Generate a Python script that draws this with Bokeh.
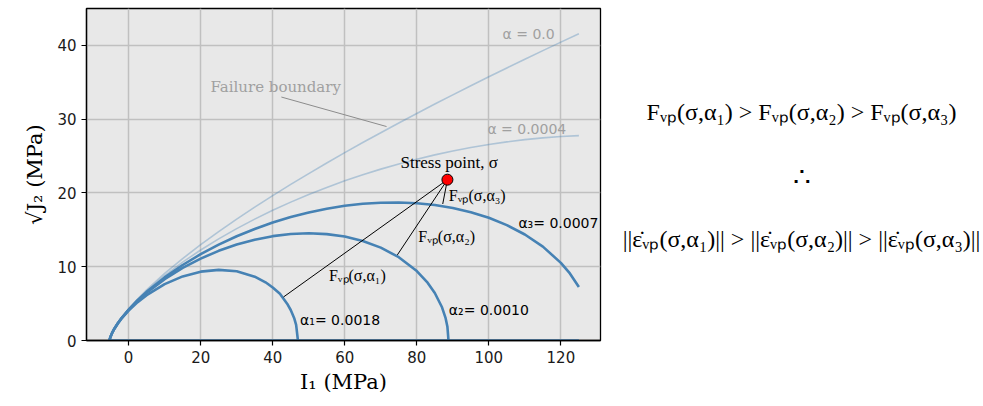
from bokeh.plotting import figure
from bokeh.layouts import row
from bokeh.models import Range1d, FixedTicker
from bokeh.core.properties import value
from bokeh.embed import file_html
from bokeh.resources import INLINE

# ---------------- data ----------------
i1_grid = [-5.3, -5.2, -5, -4.5, -4, -3, -2, 0, 2.5, 5, 10, 15, 20, 25, 30, 35, 40, 45,
           50, 55, 60, 65, 70, 75, 80, 85, 90, 95, 100, 105, 110, 115, 120, 125]
j2_alpha_0 = [0, 0.255, 0.557, 1.118, 1.578, 2.366, 3.058, 4.280, 5.632, 6.861, 9.086, 11.107,
              12.986, 14.760, 16.451, 18.073, 19.638, 21.153, 22.625, 24.060, 25.460, 26.829,
              28.169, 29.486, 30.778, 32.048, 33.297, 34.528, 35.741, 36.939, 38.121, 39.288,
              40.440, 41.579]
j2_alpha_0004 = [0, 0.255, 0.556, 1.117, 1.574, 2.355, 3.036, 4.232, 5.538, 6.709, 8.786, 10.617,
                 12.268, 13.777, 15.166, 16.453, 17.647, 18.756, 19.789, 20.750, 21.641, 22.467,
                 23.229, 23.931, 24.574, 25.158, 25.684, 26.154, 26.566, 26.924, 27.224, 27.466,
                 27.650, 27.775]

i1_a3 = [-5.3, -5.2, -5, -4.5, -4, -3, -2, 0, 2.5, 5, 10, 15, 20, 25, 30, 35, 40, 45,
         50, 55, 60, 65, 70, 75, 80, 85, 90, 95, 100, 105, 110, 115, 120, 122.5, 125]
j2_a3 = [0, 0.255, 0.556, 1.115, 1.571, 2.346, 3.020, 4.195, 5.466, 6.593, 8.553, 10.234,
         11.700, 12.990, 14.126, 15.123, 15.989, 16.733, 17.357, 17.865, 18.256, 18.528,
         18.680, 18.707, 18.603, 18.358, 17.959, 17.392, 16.631, 15.642, 14.371, 12.725,
         10.523, 9.089, 7.263]

i1_a2 = [-5.3, -5.2, -5, -4.5, -4, -3, -2, 0, 2.5, 5, 10, 15, 20, 25, 30, 35, 40, 45,
         50, 55, 60, 65, 70, 75, 80, 83, 85, 87, 88, 88.5, 88.8]
j2_a2 = [0, 0.255, 0.556, 1.113, 1.567, 2.337, 3.004, 4.158, 5.394, 6.474, 8.315, 9.836,
         11.104, 12.154, 13.004, 13.665, 14.142, 14.432, 14.528, 14.420, 14.085, 13.493,
         12.591, 11.292, 9.412, 7.831, 6.440, 4.502, 3.024, 1.859, 0]

i1_a1 = [-5.3, -5.2, -5, -4.5, -4, -3, -2, 0, 2.5, 5, 10, 15, 20, 25, 30, 35, 38, 40,
         42, 44, 45, 46, 46.5, 47]
j2_a1 = [0, 0.255, 0.555, 1.109, 1.559, 2.314, 2.960, 4.057, 5.195, 6.148, 7.643, 8.688,
         9.330, 9.573, 9.379, 8.657, 7.889, 7.184, 6.338, 4.995, 4.136, 2.966, 2.112, 0]

base_i1 = [-5.3, 125]
base_j2 = [0, 0]

stress_i1 = [88.5]
stress_j2 = [21.8]
foot_i1 = [43.0, 74.6, 87.2]
foot_j2 = [5.9, 11.6, 18.5]

leader_i1 = [42.4, 71.6]
leader_j2 = [33.0, 29.0]

x_ticks = [0, 20, 40, 60, 80, 100, 120]
y_ticks = [0, 10, 20, 30, 40]

# ---------------- main plot ----------------
BLUE = "#4682b4"
SERIF = value("DejaVu Serif")
TIMES = value("Liberation Serif")
SANS = value("DejaVu Sans")

p = figure(width=618, height=400, output_backend="svg", toolbar_location=None,
           x_range=Range1d(-11.7, 131), y_range=Range1d(0, 45),
           min_border_left=86, min_border_right=18, min_border_top=8, min_border_bottom=60)
p.background_fill_color = "#e8e8e8"
p.border_fill_color = "white"
p.outline_line_color = "black"
p.outline_line_width = 1.3

p.xgrid.ticker = FixedTicker(ticks=x_ticks)
p.ygrid.ticker = FixedTicker(ticks=y_ticks)
p.grid.grid_line_color = "#c0c0c0"
p.grid.grid_line_width = 1.5

for ax in (p.xaxis[0], p.yaxis[0]):
    ax.major_label_text_font = "DejaVu Sans"
    ax.major_label_text_font_size = "15px"
    ax.major_label_text_color = "#1a1a1a"
    ax.major_tick_out = 5
    ax.major_tick_in = 0
    ax.minor_tick_out = 0
    ax.minor_tick_in = 0
    ax.axis_line_color = "black"
    ax.axis_line_width = 1.3
    ax.major_tick_line_width = 1.2
    ax.axis_label_text_font = "DejaVu Serif"
    ax.axis_label_text_font_size = "21px"
    ax.axis_label_text_font_style = "normal"
    ax.axis_label_text_color = "black"
p.xaxis[0].ticker = FixedTicker(ticks=x_ticks)
p.yaxis[0].ticker = FixedTicker(ticks=y_ticks)
p.xaxis[0].axis_label = "I₁ (MPa)"
p.yaxis[0].axis_label = "√J₂ (MPa)"
p.xaxis[0].axis_label_standoff = 4
p.yaxis[0].axis_label_standoff = 7

# light curves
p.line(i1_grid, j2_alpha_0, line_color=BLUE, line_alpha=0.35, line_width=1.6)
p.line(i1_grid, j2_alpha_0004, line_color=BLUE, line_alpha=0.35, line_width=1.6)
# yield caps
p.line(i1_a3, j2_a3, line_color=BLUE, line_width=2.6)
p.line(i1_a2, j2_a2, line_color=BLUE, line_width=2.6)
p.line(i1_a1, j2_a1, line_color=BLUE, line_width=2.6)
p.line(base_i1, base_j2, line_color=BLUE, line_width=2.6)

# leader lines
p.line(leader_i1, leader_j2, line_color="#8c8c8c", line_width=1)
for fx, fy in zip(foot_i1, foot_j2):
    p.line([stress_i1[0], fx], [stress_j2[0], fy], line_color="black", line_width=1)

p.scatter(stress_i1, stress_j2, size=11, fill_color="red", line_color="black", line_width=1)

# text labels
p.text([22.7], [34.3], text=["Failure boundary"], text_font=SERIF, text_font_size="15px",
       text_color="#a0a0a0", text_align="left", text_baseline="middle")
p.text([103.8], [41.5], text=["α = 0.0"], text_font=SANS, text_font_size="14px",
       text_color="#a0a0a0", text_align="left", text_baseline="middle")
p.text([99.6], [28.7], text=["α = 0.0004"], text_font=SANS, text_font_size="14px",
       text_color="#a0a0a0", text_align="left", text_baseline="middle")
p.text([108.2], [15.9], text=["α₃= 0.0007"], text_font=SANS, text_font_size="14px",
       text_color="black", text_align="left", text_baseline="middle")
p.text([88.9], [4.15], text=["α₂= 0.0010"], text_font=SANS, text_font_size="14px",
       text_color="black", text_align="left", text_baseline="middle")
p.text([47.6], [2.8], text=["α₁= 0.0018"], text_font=SANS, text_font_size="14px",
       text_color="black", text_align="left", text_baseline="middle")
p.text([89.0], [24.1], text=["Stress point, σ"], text_font=TIMES, text_font_size="17px",
       text_color="black", text_align="center", text_baseline="middle")
p.text([88.9], [19.7], text=["Fᵥₚ(σ,α₃)"], text_font=TIMES, text_font_size="16px",
       text_color="black", text_align="left", text_baseline="middle")
p.text([80.4], [14.1], text=["Fᵥₚ(σ,α₂)"], text_font=TIMES, text_font_size="16px",
       text_color="black", text_align="left", text_baseline="middle")
p.text([55.6], [8.8], text=["Fᵥₚ(σ,α₁)"], text_font=TIMES, text_font_size="16px",
       text_color="black", text_align="left", text_baseline="middle")

# ---------------- right-hand text panel ----------------
# frame is aligned with the left plot's frame (page y 8..340), so use page-like y coords
q = figure(width=365, height=400, output_backend="svg", toolbar_location=None,
           x_range=Range1d(0, 365), y_range=Range1d(340, 8),
           x_axis_location=None, y_axis_location=None,
           min_border=0, min_border_left=0, min_border_right=0, min_border_top=8, min_border_bottom=60)
q.grid.visible = False
q.outline_line_color = None
q.background_fill_color = "white"
q.border_fill_color = "white"

q.text([183], [111], text=["Fᵥₚ(σ,α₁) > Fᵥₚ(σ,α₂) > Fᵥₚ(σ,α₃)"], text_font=TIMES,
       text_font_size="24px", text_color="black", text_align="center", text_baseline="middle")
q.text([183], [176], text=["∴"], text_font=TIMES, text_font_size="28px",
       text_color="black", text_align="center", text_baseline="middle")
q.text([183], [238], text=["||ε̇ᵥₚ(σ,α₁)|| > ||ε̇ᵥₚ(σ,α₂)|| > ||ε̇ᵥₚ(σ,α₃)||"], text_font=TIMES,
       text_font_size="24px", text_color="black", text_align="center", text_baseline="middle")

layout = row(p, q)
open("out.html", "w").write(file_html(layout, INLINE))
